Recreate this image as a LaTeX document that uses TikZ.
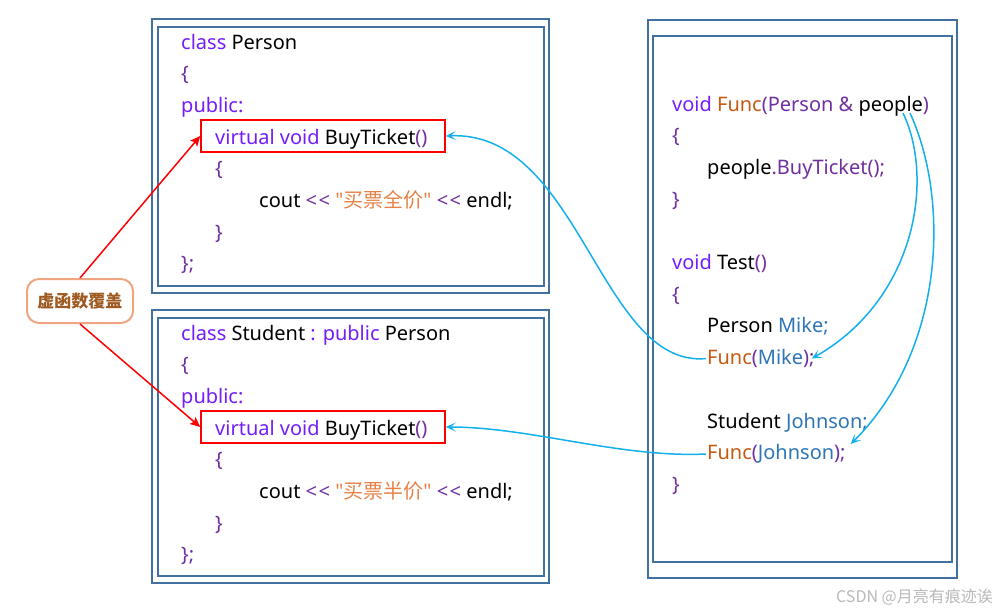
\documentclass[tikz,border=0pt]{standalone}
\usepackage{fontspec}
\setmainfont{Noto Sans}
\newfontfamily\cjk{Noto Sans CJK SC}
\newfontfamily\qf[Ligatures=TeXOff]{Noto Sans}
\usetikzlibrary{arrows.meta}
\definecolor{boxblue}{RGB}{65,113,156}
\definecolor{kwc}{RGB}{115,30,250}
\definecolor{pnc}{RGB}{112,48,160}
\definecolor{stc}{RGB}{230,130,70}
\definecolor{fnc}{RGB}{197,90,17}
\definecolor{vrc}{RGB}{46,117,182}
\definecolor{arrowblue}{RGB}{20,176,235}
\definecolor{lblborder}{RGB}{240,165,130}
\definecolor{lbltext}{RGB}{158,90,32}
\definecolor{wmgray}{RGB}{185,185,185}
\newcommand\kw[1]{\textcolor{kwc}{#1}}
\newcommand\pn[1]{\textcolor{pnc}{#1}}
\newcommand\st[1]{\textcolor{stc}{#1}}
\newcommand\fn[1]{\textcolor{fnc}{#1}}
\newcommand\vr[1]{\textcolor{vrc}{#1}}
\newcommand\zh[1]{{\cjk #1}}
\newcommand\dq{{\qf\symbol{34}}}
\newcommand\shl{<\kern1.5pt<}
\tikzset{
  code/.style={anchor=base west, inner sep=1pt, font=\fontsize{20}{24}\selectfont},
  outerbox/.style={draw=boxblue, line width=1.8pt},
  redbox/.style={draw=red, line width=1.6pt, minimum width=244pt, minimum height=32pt, inner sep=0pt},
  redarrow/.style={draw=red, line width=1.5pt, -{Stealth[length=10pt,width=9pt,inset=2pt]}},
  bluearrow/.style={draw=arrowblue, line width=1.5pt, -{Stealth[length=10pt,width=9pt,inset=5pt]}},
  lblbox/.style={draw=lblborder, line width=2pt, fill=white, rounded corners=12pt, minimum width=106pt, minimum height=44pt, font=\cjk\bfseries\fontsize{17}{19}\selectfont, text=lbltext}
}
\begin{document}
\begin{tikzpicture}[x=1pt,y=-1pt]
\useasboundingbox (0,0) rectangle (997,614);
\fill[white] (0,0) rectangle (997,614);
% containers
\draw[outerbox] (152,19) rectangle (549,293);
\draw[outerbox] (158,27) rectangle (544,286);
\draw[outerbox] (152,310) rectangle (549,583);
\draw[outerbox] (158,318) rectangle (544,576);
\draw[outerbox] (648,20) rectangle (957,578);
\draw[outerbox] (653,36) rectangle (952,562);
% red boxes
\node[redbox] (rb1) at (323,136) {};
\node[redbox] (rb2) at (323,427) {};
% Person class
\node[code] (p0) at (180,49) {\kw{class} Person};
\node[code] (p1) at (180,80.7) {\pn{\{}};
\node[code] (p2) at (180,112.4) {\kw{public:}};
\node[code] (p3) at (214,144.1) {\kw{virtual void} BuyTicket\pn{()}};
\node[code] (p4) at (214,175.8) {\pn{\{}};
\node[code] (p5) at (258,207.5) {cout \pn{\shl} \st{\dq\zh{买票全价}\dq} \pn{\shl} endl;};
\node[code] (p6) at (214,239.2) {\pn{\}}};
\node[code] (p7) at (180,270.9) {\pn{\};}};
% Student class
\node[code] (s0) at (180,340) {\kw{class} Student \kw{:} \kw{public} Person};
\node[code] (s1) at (180,371.7) {\pn{\{}};
\node[code] (s2) at (180,403.4) {\kw{public:}};
\node[code] (s3) at (214,435.1) {\kw{virtual void} BuyTicket\pn{()}};
\node[code] (s4) at (214,466.8) {\pn{\{}};
\node[code] (s5) at (258,498.5) {cout \pn{\shl} \st{\dq\zh{买票半价}\dq} \pn{\shl} endl;};
\node[code] (s6) at (214,530.2) {\pn{\}}};
\node[code] (s7) at (180,561.9) {\pn{\};}};
% right side
\node[code] (f0) at (671,111) {\kw{void} \fn{Func}\pn{(Person \&} people\pn{)}};
\node[code] (f1) at (671,142.7) {\pn{\{}};
\node[code] (f2) at (706,174.4) {people\pn{.BuyTicket();}};
\node[code] (f3) at (671,206.1) {\pn{\}}};
\node[code] (t0) at (671,269.5) {\kw{void} Test\pn{()}};
\node[code] (t1) at (671,301.2) {\pn{\{}};
\node[code] (t2) at (706,332.9) {Person \vr{Mike;}};
\node[code] (fm) at (706,364.6) {\fn{Func}\pn{(}\vr{Mike}\pn{);}};
\node[code] (t3) at (706,428) {Student \vr{Johnson;}};
\node[code] (fj) at (706,459.7) {\fn{Func}\pn{(}\vr{Johnson}\pn{);}};
\node[code] (t4) at (671,491.4) {\pn{\}}};
% label
\node[lblbox] (lbl) at (80,301) {虚函数覆盖};
% red arrows
\draw[redarrow] (lbl.north) -- (rb1.west);
\draw[redarrow] (lbl.south) -- (rb2.west);
% blue arrows
\coordinate (pp1) at (903,113);
\coordinate (pp2) at (910,113);
\draw[bluearrow] (fm.west) .. controls (600,368) and (580,130) .. (rb1.east);
\draw[bluearrow] (fj.west) .. controls (620,458) and (530,427) .. (rb2.east);
\draw[bluearrow] (pp1) .. controls (935,180) and (915,300) .. ([shift={(-4,0)}]fm.east);
\draw[bluearrow] (pp2) .. controls (950,200) and (945,350) .. ([shift={(4,-10)}]fj.east);
% watermark
\node[anchor=east, inner sep=0pt, text=wmgray, font=\cjk\fontsize{16}{18}\selectfont] (wm) at (993,597) {CSDN @月亮有痕迹诶};
\end{tikzpicture}
\end{document}
